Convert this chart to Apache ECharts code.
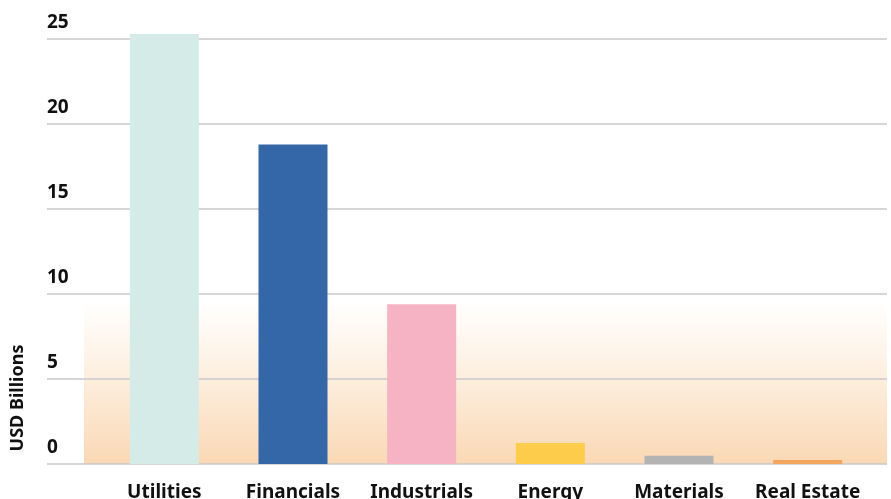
<!DOCTYPE html>
<html>
<head>
<meta charset="utf-8">
<script src="https://cdn.jsdelivr.net/npm/echarts@6/dist/echarts.min.js"></script>
<style>
  html, body { margin: 0; padding: 0; background: #ffffff; }
  #chart { width: 891px; height: 499px; }
</style>
</head>
<body>
<div id="chart"></div>
<script>
// Sector totals, USD billions
const sectors = ['Utilities', 'Financials', 'Industrials', 'Energy', 'Materials', 'Real Estate'];
const values = [25.3, 18.8, 9.4, 1.24, 0.48, 0.24];
const barColors = ['#D5EBE8', '#3467A7', '#F5B3C4', '#FDCC4A', '#B3B3B3', '#F4A65E'];
const yTicks = [0, 5, 10, 15, 20, 25];

const yMin = yTicks[0];
const yMax = yTicks[yTicks.length - 1];
const yStep = yTicks[1] - yTicks[0];
const FONT = 'Noto Sans';

// plot geometry: value 0 at y=464, value 25 at y=39
const PLOT_TOP = 39, PLOT_BOTTOM = 35;
const pxPerUnit = (499 - PLOT_BOTTOM - PLOT_TOP) / (yMax - yMin);
// bar grid gets one spare unit of headroom so the tallest bar is not clipped
const barMax = yMax + 1;
const barTop = PLOT_TOP - pxPerUnit * (barMax - yMax);

const chart = echarts.init(document.getElementById('chart'));

chart.setOption({
  animation: false,
  backgroundColor: '#ffffff',
  grid: [
    { left: 100, right: 19, top: barTop, bottom: PLOT_BOTTOM, outerBoundsMode: 'none' },
    { left: 47, right: 4, top: PLOT_TOP, bottom: PLOT_BOTTOM, outerBoundsMode: 'none' }
  ],
  graphic: [{
    type: 'rect',
    z: -10,
    silent: true,
    shape: { x: 84, y: 300, width: 803, height: 164 },
    style: {
      fill: new echarts.graphic.LinearGradient(0, 0, 0, 1, [
        { offset: 0, color: 'rgba(251,222,190,0)' },
        { offset: 1, color: 'rgba(250,216,180,1)' }
      ])
    }
  }],
  xAxis: [
    {
      type: 'category',
      gridIndex: 0,
      data: sectors,
      axisLine: { show: false },
      axisTick: { show: false },
      axisLabel: {
        margin: 19,
        color: '#111111',
        fontFamily: FONT,
        fontWeight: 'bold',
        fontSize: 19,
        interval: 0
      }
    },
    {
      type: 'value',
      gridIndex: 1,
      show: false
    }
  ],
  yAxis: [
    {
      type: 'value',
      gridIndex: 0,
      min: yMin, max: barMax,
      show: false
    },
    {
      type: 'value',
      gridIndex: 1,
      min: yMin, max: yMax, interval: yStep,
      name: 'USD Billions',
      nameLocation: 'middle',
      nameGap: 20,
      nameTextStyle: {
        color: '#111111',
        fontFamily: FONT,
        fontWeight: 'bold',
        fontSize: 18,
        padding: [0, 293, 0, 0]
      },
      axisLine: { show: false },
      axisTick: { show: false },
      axisLabel: {
        inside: true,
        margin: 0,
        verticalAlign: 'bottom',
        padding: [0, 0, 7, 0],
        color: '#111111',
        fontFamily: FONT,
        fontWeight: 'bold',
        fontSize: 19
      },
      splitLine: { lineStyle: { color: '#C9C9CD', width: 1.5 } }
    }
  ],
  series: [{
    type: 'bar',
    xAxisIndex: 0,
    yAxisIndex: 0,
    barWidth: 69,
    data: values.map((v, i) => ({ value: v, itemStyle: { color: barColors[i] } }))
  }]
});
</script>
</body>
</html>
